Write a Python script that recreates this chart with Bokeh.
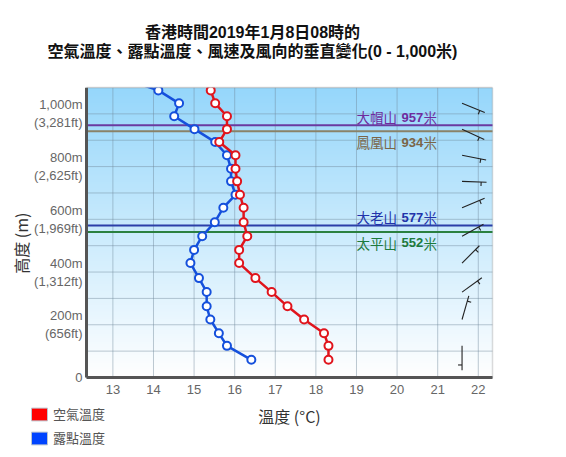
import numpy as np
from bokeh.plotting import figure
from bokeh.models import (Range1d, FixedTicker, Legend, LegendItem, Label, BoxAnnotation,
                          ColumnDataSource)
from bokeh.core.properties import value
from bokeh.embed import file_html
from bokeh.resources import INLINE

# ---------------- data ----------------
heights = [1138, 1089, 1040, 991, 942, 893, 843, 792, 744, 693, 644, 589, 536,
           484, 434, 377, 324, 270, 220, 168, 120, 67]
air_temp = [15.20, 15.41, 15.52, 15.81, 15.81, 15.62, 16.02, 16.02, 16.06, 16.13, 16.22,
            16.22, 16.31, 16.11, 16.11, 16.51, 16.91, 17.30, 17.71, 18.20, 18.31, 18.31]
dew_point = [13.17, 14.12, 14.63, 14.51, 15.01, 15.52, 15.81, 15.91, 15.91, 16.02, 15.72,
             15.51, 15.20, 15.00, 14.91, 15.12, 15.31, 15.31, 15.40, 15.61, 15.81, 16.41]

wind_heights = [1040, 942, 843, 744, 644, 536, 434, 324, 220, 120]
wind_dir_deg = [112, 115, 101, 92, 67, 61, 45, 54, 16, 180]
wind_speed_kt = [5, 5, 5, 5, 5, 5, 5, 5, 5, 5]

mountain_names = ["大帽山", "鳳凰山", "大老山", "太平山"]
mountain_heights = [957, 934, 577, 552]
mountain_colors = ["#6e2c9e", "#7a6548", "#2233aa", "#1c7a3c"]
mountain_line_colors = ["#6a3aa0", "#8a8268", "#2b3fa8", "#2a8040"]
mountain_label_above = [True, False, True, False]

x_ticks = [13, 14, 15, 16, 17, 18, 19, 20, 21, 22]
y_ticks = [0, 100, 200, 300, 400, 500, 600, 700, 800, 900, 1000]
y_tick_labels = {0: "0", 200: "200m\n(656ft)", 400: "400m\n(1,312ft)",
                 600: "600m\n(1,969ft)", 800: "800m\n(2,625ft)", 1000: "1,000m\n(3,281ft)"}

title_line1 = "香港時間2019年1月8日08時的"
title_line2 = "空氣溫度、露點溫度、風速及風向的垂直變化(0 - 1,000米)"
legend_labels = ["空氣溫度", "露點溫度"]
x_title = "溫度 (°C)"
y_title = "高度 (m)"

# ---------------- layout (pixels) ----------------
FW, FH = 560, 449
BOX_L, BOX_R, BOX_T, BOX_B = 86, 492, 87, 377      # plot box on the canvas
X0, X1 = 12.35, 22.35                              # visible temperature range of the box
Y0, Y1 = 0, 1100                                   # visible height range of the box
px_x = (BOX_R - BOX_L) / (X1 - X0)
px_y = (BOX_B - BOX_T) / (Y1 - Y0)
# the frame covers the whole canvas; axes are pinned to the box edges
XR0, XR1 = X0 - BOX_L / px_x, X1 + (FW - BOX_R) / px_x
YR0, YR1 = Y0 - (FH - BOX_B) / px_y, Y1 + BOX_T / px_y

RED = "#e0141c"
BLUE = "#1550dc"
CJK = "'Noto Sans CJK TC'"
LAT = "'Liberation Sans', 'Noto Sans CJK TC'"

p = figure(width=FW, height=FH, output_backend="svg", toolbar_location=None,
           x_range=Range1d(XR0, XR1), y_range=Range1d(YR0, YR1),
           min_border=0, min_border_left=0, min_border_right=0, min_border_top=0, min_border_bottom=0)
p.background_fill_color = "white"
p.border_fill_color = "white"
p.outline_line_color = None
p.xgrid.visible = False
p.ygrid.visible = False

# gradient background of the plot box (style only)
n = 256
t = np.linspace(0, 1, n)[:, None]
top = np.array([150, 215, 251])
bot = np.array([255, 255, 255])
rgb = bot + (top - bot) * t
img = np.zeros((n, 1), dtype=np.uint32)
view = img.view(dtype=np.uint8).reshape((n, 1, 4))
view[:, :, 0] = rgb[:, 0:1].astype(np.uint8)
view[:, :, 1] = rgb[:, 1:2].astype(np.uint8)
view[:, :, 2] = rgb[:, 2:3].astype(np.uint8)
view[:, :, 3] = 255
p.image_rgba(image=[img], x=X0, y=Y0, dw=X1 - X0, dh=Y1 - Y0, level="image")

# grid lines limited to the plot box
GRID = dict(line_color="#6f8798", line_alpha=0.45, line_width=1, level="underlay")
p.segment(x0=x_ticks, x1=x_ticks, y0=[Y0] * len(x_ticks), y1=[Y1] * len(x_ticks), **GRID)
p.segment(x0=[X0] * len(y_ticks), x1=[X1] * len(y_ticks), y0=y_ticks, y1=y_ticks, **GRID)

# box outline
p.add_layout(BoxAnnotation(left=X0, right=X1, bottom=Y0, top=Y1, fill_alpha=0,
                           line_color="#8a8a8a", line_width=1.5, level="underlay"))

# axes pinned to the box
p.xaxis.fixed_location = Y0
p.yaxis.fixed_location = X0
p.xaxis.bounds = (X0, X1)
p.yaxis.bounds = (Y0, Y1)
p.xaxis.ticker = FixedTicker(ticks=x_ticks)
p.yaxis.ticker = FixedTicker(ticks=y_ticks)
p.yaxis.major_label_overrides = {tk: y_tick_labels.get(tk, "") for tk in y_ticks}
for ax in (p.xaxis, p.yaxis):
    ax.axis_line_color = "#555555"
    ax.axis_line_width = 3
    ax.major_tick_line_color = None
    ax.minor_tick_line_color = None
    ax.major_tick_out = 0
    ax.major_tick_in = 0
    ax.major_label_text_font = "Liberation Sans"
    ax.major_label_text_font_size = "13px"
    ax.major_label_text_color = "#666666"
    ax.axis_label_text_font = CJK
    ax.axis_label_text_font_size = "16px"
    ax.axis_label_text_font_style = "normal"
    ax.axis_label_text_color = "#333333"
p.xaxis.major_label_standoff = 7
p.yaxis.major_label_standoff = 4
p.xaxis.axis_label = x_title
p.yaxis.axis_label = y_title + "\u00a0" * 6
p.xaxis.axis_label_standoff = 7
p.yaxis.axis_label_standoff = -2

# mountain reference lines (limited to the box)
p.segment(x0=[X0] * len(mountain_heights), x1=[X1] * len(mountain_heights),
          y0=mountain_heights, y1=mountain_heights, line_color=mountain_line_colors, line_width=2)

msrc = ColumnDataSource(dict(
    x=[19.0] * len(mountain_heights), y=mountain_heights,
    name=mountain_names, num=[str(h) for h in mountain_heights], unit=["米"] * len(mountain_heights),
    color=mountain_colors, yo=[-8 if a else 11 for a in mountain_label_above]))
p.text(x="x", y="y", text="name", source=msrc, text_color="color", y_offset="yo",
       text_baseline="middle", text_font=value("Noto Sans CJK TC"), text_font_size="13.5px")
p.text(x="x", y="y", text="num", source=msrc, text_color="color", y_offset="yo", x_offset=45,
       text_baseline="middle", text_font=value("Liberation Sans"), text_font_size="13px",
       text_font_style="bold")
p.text(x="x", y="y", text="unit", source=msrc, text_color="color", y_offset="yo", x_offset=67,
       text_baseline="middle", text_font=value("Noto Sans CJK TC"), text_font_size="13.5px")

# profiles
src_t = ColumnDataSource(dict(x=air_temp, y=heights))
src_d = ColumnDataSource(dict(x=dew_point, y=heights))
p.line("x", "y", source=src_d, line_color=BLUE, line_width=2.5)
p.scatter("x", "y", source=src_d, size=8, marker="circle", fill_color="white", line_color=BLUE, line_width=2)
p.line("x", "y", source=src_t, line_color=RED, line_width=2.5)
p.scatter("x", "y", source=src_t, size=8, marker="circle", fill_color="white", line_color=RED, line_width=2)

# white cover above the box so the profiles stop at the box top (style only)
p.add_layout(BoxAnnotation(left=XR0, right=XR1, bottom=Y1, top=YR1, fill_color="white",
                           fill_alpha=1, line_color=None, level="annotation"))
p.add_layout(BoxAnnotation(left=X0, right=X1, top=Y1, bottom=Y1, fill_alpha=0,
                           line_color="#8a8a8a", line_width=1.5, level="annotation"))

# wind barbs
BARB_X = 21.6
STAFF = 24.5
FEATH = 4.0
x0s, y0s, x1s, y1s = [], [], [], []
fx0, fy0, fx1, fy1 = [], [], [], []
for h, d, s in zip(wind_heights, wind_dir_deg, wind_speed_kt):
    r = np.deg2rad(d)
    ux, uy = np.sin(r), np.cos(r)  # screen east / north
    x0s.append(BARB_X); y0s.append(h)
    x1s.append(BARB_X + STAFF * ux / px_x); y1s.append(h + STAFF * uy / px_y)
    nb = int(round(s / 5.0))
    for k in range(nb):
        f = 0.78 - 0.15 * k
        bx = BARB_X + f * STAFF * ux / px_x
        by = h + f * STAFF * uy / px_y
        rr = np.deg2rad(d + 90)
        fx0.append(bx); fy0.append(by)
        fx1.append(bx + FEATH * np.sin(rr) / px_x); fy1.append(by + FEATH * np.cos(rr) / px_y)
p.segment(x0=x0s, y0=y0s, x1=x1s, y1=y1s, line_color="#222222", line_width=1.1)
p.segment(x0=fx0, y0=fy0, x1=fx1, y1=fy1, line_color="#222222", line_width=1.1)

# legend (dummy renderers), bottom-left of the canvas
nan = float("nan")
r_leg_t = p.rect(x=[nan], y=[nan], width=1, height=1, fill_color="#ff0000", line_color="#bcc6d0")
r_leg_d = p.rect(x=[nan], y=[nan], width=1, height=1, fill_color="#0044ff", line_color="#bcc6d0")
legend = Legend(items=[LegendItem(label=legend_labels[0], renderers=[r_leg_t]),
                       LegendItem(label=legend_labels[1], renderers=[r_leg_d])],
                location=(29, 2), orientation="vertical",
                border_line_color=None, background_fill_alpha=0, padding=0, margin=0,
                spacing=5, glyph_width=20, glyph_height=16, label_height=16, label_width=50,
                label_standoff=4, label_text_font=CJK, label_text_font_size="13px",
                label_text_color="#555555")
p.add_layout(legend, "center")

# two-line title
for txt, cy in ((title_line1, 32), (title_line2, 51)):
    p.add_layout(Label(x=252, y=FH - cy, x_units="screen", y_units="screen", text=txt,
                       text_align="center", text_baseline="middle", text_font=LAT,
                       text_font_size="16px", text_font_style="bold", text_color="#111111"))

open("out.html", "w").write(file_html(p, INLINE))
